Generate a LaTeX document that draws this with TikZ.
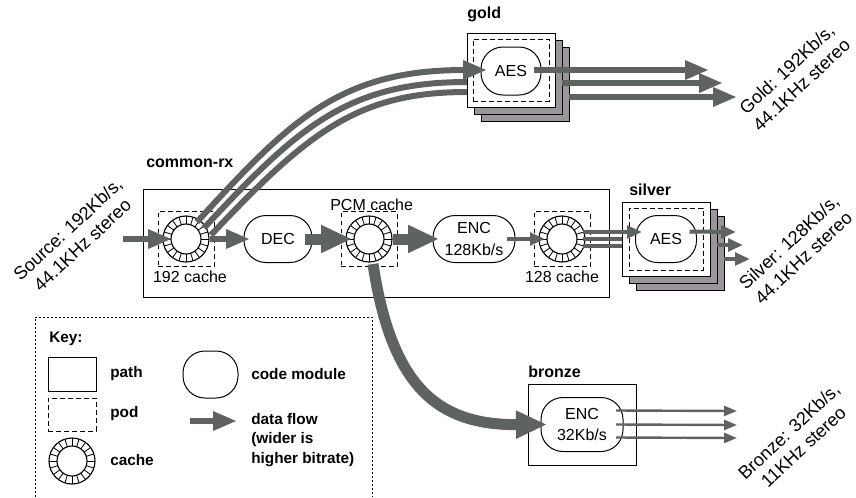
\documentclass[tikz,border=0pt]{standalone}
\usepackage{fontspec}
\setmainfont{Liberation Sans}
\usetikzlibrary{arrows.meta, positioning}
\definecolor{flowgray}{HTML}{5F635F}
\definecolor{stackgray}{HTML}{9A959A}
\tikzset{
  label12/.style   = {font=\fontsize{12}{14.4}\selectfont, inner sep=0pt},
  keytext/.style   = {font=\fontsize{11.5}{14.6}\selectfont\bfseries, inner sep=0pt, align=left},
  grouptext/.style = {font=\fontsize{12}{14.4}\selectfont\bfseries, inner sep=0pt},
  outtext/.style   = {font=\fontsize{13.6}{16}\selectfont, inner sep=0pt, align=center, rotate=43},
  pathbox/.style   = {rectangle, draw=black, line width=.75pt, fill=white, minimum width=88*.75pt, minimum height=74*.75pt, inner sep=0pt, outer sep=0pt},
  stackbox/.style  = {pathbox, fill=stackgray},
  pod/.style       = {rectangle, draw=black, line width=.75pt, dash pattern=on 3.5pt off 2.5pt, minimum width=56*.75pt, minimum height=55*.75pt, inner sep=0pt, outer sep=0pt},
  module/.style    = {rectangle, rounded corners=16.5pt, draw=black, line width=.75pt, fill=white, minimum height=47*.75pt, inner sep=0pt, outer sep=0pt, align=center, font=\fontsize{12}{16}\selectfont},
  cache/.style     = {circle, draw=black, line width=.85pt, fill=white, minimum size=46*.75pt, inner sep=0pt, outer sep=0pt,
    path picture={
      \foreach \a in {0,18,...,342} \draw[line width=.6pt] (path picture bounding box.center) -- ++(\a:24);
      \draw[line width=.85pt, fill=white] (path picture bounding box.center) circle (15);
    }},
  flowbig/.style   = {draw=flowgray, line width=11*.75pt, -{Triangle[length=31*.75pt, width=26*.75pt]}},
  flowmid/.style   = {draw=flowgray, line width=6.5*.75pt, -{Triangle[length=24*.75pt, width=18*.75pt]}},
  flowthin/.style  = {draw=flowgray, line width=4*.75pt, -{Triangle[length=15*.75pt, width=12.5*.75pt]}},
  flowhair/.style  = {draw=flowgray, line width=2.4*.75pt, -{Triangle[length=13*.75pt, width=10*.75pt]}},
  flowbare/.style  = {draw=flowgray, line width=#1*.75pt}
}
\begin{document}
\begin{tikzpicture}[x=.75pt, y=-.75pt]
  \useasboundingbox (0,0) rectangle (856,497);

  % common-rx
  \node[pathbox, minimum width=466*.75pt, minimum height=108*.75pt] (rxbox) at (376,243) {};
  \node[grouptext, anchor=west] (rxname) at (146,163) {common-rx};

  \node[cache] (cacheA) at (186,239) {};
  \node[module, minimum width=68*.75pt, right=35*.75pt of cacheA] (dec) {DEC};
  \node[cache, right=34*.75pt of dec] (cacheB) {};
  \node[module, minimum width=82*.75pt, right=41*.75pt of cacheB] (encA) {ENC\\128Kb/s};
  \node[cache, right=24*.75pt of encA] (cacheC) {};

  \node[pod] (podA) at (cacheA) {};
  \node[pod] (podB) at (cacheB) {};
  \node[pod] (podC) at (cacheC) {};
  \node[label12, below=4*.75pt of podA, xshift=3pt] (nameA) {192 cache};
  \node[label12, above=1*.75pt of podB, xshift=2pt] (nameB) {PCM cache};
  \node[label12, below=4*.75pt of podC] (nameC) {128 cache};

  % gold
  \node[stackbox] (goldc) at (525,84) {};
  \node[stackbox] (goldb) at (518,77) {};
  \node[pathbox]  (golda) at (511,70) {};
  \node[pod, minimum width=76*.75pt, minimum height=62*.75pt] (goldpod) at (golda) {};
  \node[module, minimum width=60*.75pt, minimum height=48*.75pt] (goldaes) at (511,71) {AES};
  \node[grouptext, anchor=west] (goldname) at (467,14) {gold};

  % silver
  \node[stackbox] (silverc) at (680,253) {};
  \node[stackbox] (silverb) at (673,246) {};
  \node[pathbox]  (silvera) at (666,239) {};
  \node[pod, minimum width=74*.75pt, minimum height=62*.75pt] (silverpod) at (silvera) {};
  \node[module, minimum width=61*.75pt] (silveraes) at (silvera) {AES};
  \node[grouptext, anchor=west] (silvername) at (629,190) {silver};

  % bronze
  \node[pathbox, minimum width=108*.75pt, minimum height=81*.75pt] (bronzebox) at (582,424.5) {};
  \node[module, minimum width=82*.75pt, minimum height=54*.75pt] (encB) at (bronzebox) {ENC\\32Kb/s};
  \node[grouptext, anchor=west] (bronzename) at (528,372) {bronze};

  % rotated labels
  \node[outtext] (source) at (75,237) {Source: 192Kb/s,\\44.1KHz stereo};
  \node[outtext] (goldout) at (794,77) {Gold: 192Kb/s,\\44.1KHz stereo};
  \node[outtext] (silverout) at (796,250) {Silver: 128Kb/s,\\44.1KHz stereo};
  \node[outtext] (bronzeout) at (796,439) {Bronze: 32Kb/s,\\11KHz stereo};

  % free ends
  \coordinate (srcin) at (123,239);
  \coordinate (goldendA) at (709,70);
  \coordinate (goldendB) at (723,83);
  \coordinate (goldendC) at (737,97);
  \coordinate (silverendA) at (736,232);
  \coordinate (silverendB) at (743,245);
  \coordinate (silverendC) at (750,259);
  \coordinate (bronzeendA) at (737,411);
  \coordinate (bronzeendB) at (737,425);
  \coordinate (bronzeendC) at (737,438);

  % flows
  \draw[flowmid] (srcin) -- ([shift={(9,0)}]cacheA.west);
  \draw[flowmid] ([shift={(1,0)}]cacheA.east) -- ([shift={(6,0)}]dec.west);
  \draw[flowbig] ([shift={(-7,0)}]dec.east) -- ([shift={(6,0)}]cacheB.west);
  \draw[flowbig] ([shift={(1,0)}]cacheB.east) -- ([shift={(6,0)}]encA.west);
  \draw[flowthin] ([shift={(-8,0)}]encA.east) -- ([shift={(6,0)}]cacheC.west);

  \draw[flowbare=6] ([shift={(18,-11)}]cacheA.center) .. controls (297,128) and (347,82) .. ([shift={(0,12)}]golda.west);
  \draw[flowbare=6] ([shift={(25,-4)}]cacheA.center) .. controls (308,132) and (358,92) .. ([shift={(0,22)}]golda.west);
  \draw[flowmid, line width=6*.75pt] ([shift={(11,-17)}]cacheA.center) .. controls (290,120) and (340,70) .. ([shift={(20,0)}]golda.west);

  \draw[flowmid] ([shift={(-7,-1)}]goldaes.east) -- (goldendA);
  \draw[flowmid] ([shift={(0,6)}]goldb.east) -- (goldendB);
  \draw[flowmid] ([shift={(0,13)}]goldc.east) -- (goldendC);

  \draw[flowbare=4] ([shift={(-2,0)}]cacheC.east) -- (silvera.west);
  \draw[flowbare=4] ([shift={(-2,7)}]cacheC.east) -- ([shift={(0,7)}]silvera.west);
  \draw[flowthin] ([shift={(-2,-7)}]cacheC.east) -- ([shift={(20,-7)}]silvera.west);

  \draw[flowthin] ([shift={(-7,-7.5)}]silveraes.east) -- (silverendA);
  \draw[flowthin] ([shift={(0,-1)}]silverb.east) -- (silverendB);
  \draw[flowthin] ([shift={(0,6)}]silverc.east) -- (silverendC);

  \draw[flowbig] ([shift={(4,2)}]cacheB.south) .. controls (392,390) and (440,425) .. ([shift={(6,0)}]encB.west);

  \draw[flowhair] ([shift={(-7,-14)}]encB.east) -- (bronzeendA);
  \draw[flowhair] ([shift={(-7,0)}]encB.east) -- (bronzeendB);
  \draw[flowhair] ([shift={(-7,13)}]encB.east) -- (bronzeendC);

  % key
  \draw[line width=.75pt, dash pattern=on 1.5pt off 1.5pt] (35,497) -- (35,317) -- (372,317) -- (372,497);
  \node[keytext, anchor=west] (keyname) at (49,339) {Key:};
  \node[pathbox, minimum width=48*.75pt, minimum height=34*.75pt] (keypath) at (72,374) {};
  \node[pod, minimum width=48*.75pt, minimum height=33*.75pt] (keypod) at (72,414.5) {};
  \node[cache] (keycache) at (72,461) {};
  \node[module, minimum width=55*.75pt] (keymodule) at (210.5,374.5) {};
  \coordinate (keytail) at (190,421);
  \coordinate (keytip) at (237,421);
  \draw[flowmid] (keytail) -- (keytip);
  \node[keytext, right=14*.75pt of keypath] (keypathtext) {path};
  \node[keytext, right=14*.75pt of keypod, yshift=1pt] (keypodtext) {pod};
  \node[keytext, right=15*.75pt of keycache, yshift=1pt] (keycachetext) {cache};
  \node[keytext, right=13*.75pt of keymodule] (keymoduletext) {code module};
  \node[keytext, anchor=west] (keyflowtext) at (251,440) {data flow\\(wider is\\higher bitrate)};
\end{tikzpicture}
\end{document}
